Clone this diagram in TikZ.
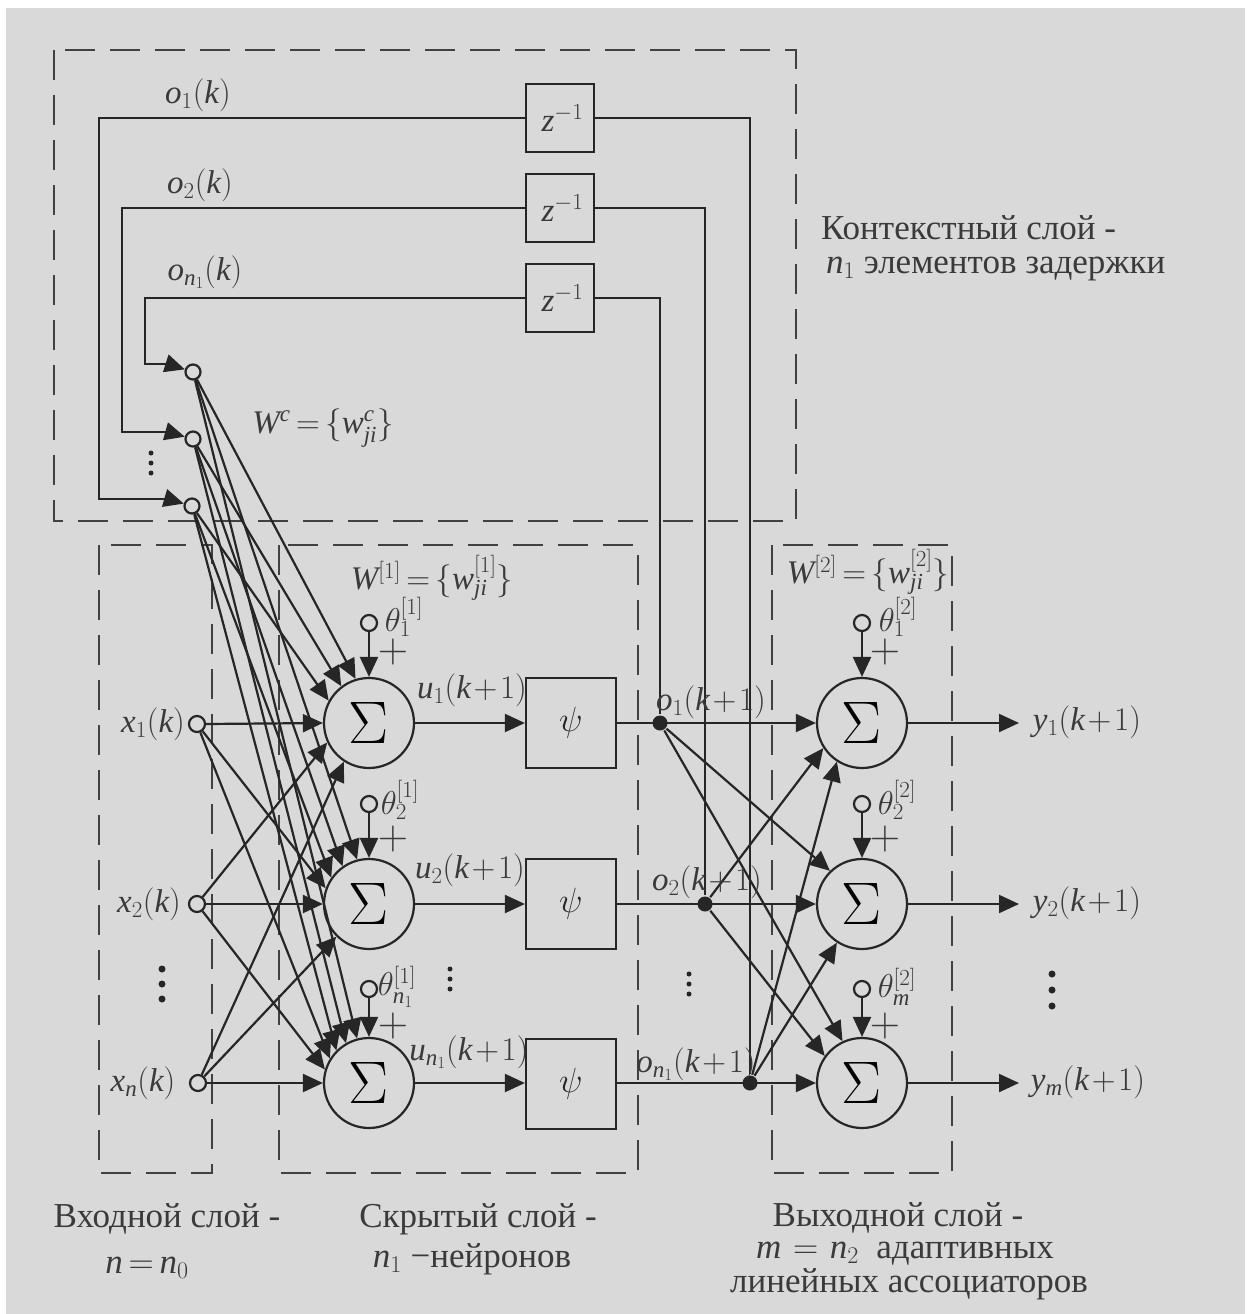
\documentclass[tikz,border=0pt]{standalone}
\usepackage{fix-cm}
\usepackage{fontspec}
\setmainfont{Liberation Serif}
\usetikzlibrary{arrows.meta}
\DeclareSymbolFont{ltnit}{TU}{\rmdefault}{m}{it}
\makeatletter
\@for\ltr:=x,k,u,o,y,n,m,z,w,j,i,c,W\do{%
  \expandafter\DeclareMathSymbol\expandafter{\ltr}{\mathalpha}{ltnit}{\expandafter`\ltr}}
\makeatother
\DeclareMathSizes{33}{33}{23}{17}
\DeclareMathSizes{35}{35}{24}{18}
\DeclareMathSizes{42}{42}{28}{20}
\DeclareMathSizes{60}{60}{40}{30}
\AtBeginDocument{\medmuskip=1.5mu \thickmuskip=3mu}
\definecolor{bgc}{HTML}{D9D9D9}
\definecolor{ink}{HTML}{262626}
\definecolor{txt}{HTML}{3A3A3A}
\tikzset{
  arr/.style={-{Triangle[length=20pt,width=18pt]}},
  dbox/.style={line width=2pt,dash pattern=on 30pt off 15pt,draw=ink!85!bgc},
  sumnode/.style={circle,draw=ink,line width=2.2pt,minimum size=90pt,inner sep=0pt,text=black,font=\fontsize{60}{60}\selectfont},
  hollow/.style={circle,draw=ink,line width=2.2pt,fill=bgc,minimum size=16pt,inner sep=0pt},
  solid dot/.style={circle,fill=ink,draw=none,minimum size=15pt,inner sep=0pt},
  delaybox/.style={rectangle,draw=ink,line width=2.2pt,minimum width=68pt,minimum height=68pt,inner sep=0pt,text=txt,font=\fontsize{33}{36}\selectfont},
  psibox/.style={rectangle,draw=ink,line width=2.2pt,minimum width=90pt,minimum height=90pt,inner sep=0pt,text=ink,font=\fontsize{35}{36}\selectfont},
  lab/.style={inner sep=0pt,text=txt,font=\fontsize{33}{36}\selectfont},
  pluslab/.style={inner sep=0pt,text=txt,font=\fontsize{42}{42}\selectfont},
  captxt/.style={inner sep=0pt,text=txt,font=\fontsize{35}{38}\selectfont,anchor=base},
  pdot/.style={circle,fill=ink,draw=none,minimum size=5pt,inner sep=0pt},
  bigdot/.style={circle,fill=ink,draw=none,minimum size=7pt,inner sep=0pt},
}
\begin{document}
\begin{tikzpicture}[x=1pt,y=-1pt,color=ink,line width=2.2pt]
\useasboundingbox (0,0) rectangle (1249,1314);
\fill[white] (0,0) rectangle (1249,1314);
\fill[bgc] (6,8) rectangle (1245,1314);
% dashed groups
\draw[dbox] (54,50) rectangle (796,521);
\draw[dbox] (99,545) rectangle (212,1173);
\draw[dbox] (279,545) rectangle (638,1173);
\draw[dbox] (772,545) rectangle (952,1173);
% delay
\node[delaybox] (z1) at (560,118) {\hspace*{5pt}$z^{-1}$};
\node[delaybox] (z2) at (560,208) {\hspace*{5pt}$z^{-1}$};
\node[delaybox] (z3) at (560,298) {\hspace*{5pt}$z^{-1}$};
% context units
\node[hollow,minimum size=15pt] (c1) at (193,372) {};
\node[hollow,minimum size=15pt] (c2) at (193,439) {};
\node[hollow,minimum size=15pt] (c3) at (192,506) {};
\coordinate (e1) at (168,364);
\coordinate (e2) at (168,432);
\coordinate (e3) at (168,499);
% inputs
\node[hollow] (i1) at (197,724) {};
\node[hollow] (i2) at (197,904) {};
\node[hollow] (i3) at (198,1083) {};
% hidden
\node[sumnode] (s1) at (369,723) {$\Sigma$};
\node[sumnode] (s2) at (369,904) {$\Sigma$};
\node[sumnode] (s3) at (369,1083) {$\Sigma$};
\node[psibox] (p1) at (571,723) {$\psi$};
\node[psibox] (p2) at (571,904) {$\psi$};
\node[psibox] (p3) at (571,1084) {$\psi$};
% output sums
\node[sumnode] (r1) at (862,723) {$\Sigma$};
\node[sumnode] (r2) at (862,904) {$\Sigma$};
\node[sumnode] (r3) at (862,1083) {$\Sigma$};
% branch dots
\node[solid dot] (d1) at (660,723) {};
\node[solid dot] (d2) at (705,904) {};
\node[solid dot] (d3) at (750,1083) {};
% thetas
\node[hollow] (t1) at (369,623) {};
\node[hollow] (t2) at (369,804) {};
\node[hollow] (t3) at (369,989) {};
\node[hollow] (q1) at (862,623) {};
\node[hollow] (q2) at (862,804) {};
\node[hollow] (q3) at (862,989) {};
\foreach \a/\b in {t1/s1,t2/s2,t3/s3,q1/r1,q2/r2,q3/r3} \draw[arr] (\a) -- (\b);
% feedback
\draw (z1) -| (d3);
\draw (z2) -| (d2);
\draw (z3) -| (d1);
\draw (z1) -- (99,118) |- (e3);
\draw (z2) -- (122,208) |- (e2);
\draw (z3) -- (145,298) |- (e1);
\draw[arr] (e1) -- (c1);
\draw[arr] (e2) -- (c2);
\draw[arr] (e3) -- (c3);
% context fan
\foreach \c/\a in {c1/107,c2/127,c3/151} \draw[arr] (\c) -- (s1.\a);
\foreach \c/\a in {c1/105,c2/125,c3/145} \draw[arr] (\c) -- (s2.\a);
\foreach \c/\a in {c1/105,c2/120,c3/135} \draw[arr] (\c) -- (s3.\a);
% input fan
\draw[arr] (i1.east) -- (s1.west);
\draw[arr] (i2.east) -- (s2.west);
\draw[arr] (i3.east) -- (s3.west);
\draw[arr] (i1) -- (s2.160);
\draw[arr] (i1) -- (s3.148);
\draw[arr] (i2) -- (s1.205);
\draw[arr] (i2) -- (s3.163);
\draw[arr] (i3) -- (s1.237);
\draw[arr] (i3) -- (s2.225);
% hidden to psi
\draw[arr] (s1) -- (p1);
\draw[arr] (s2) -- (p2);
\draw[arr] (s3) -- (p3.west |- s3);
% psi to output
\draw[arr] (p1) -- (r1);
\draw[arr] (p2) -- (r2);
\draw[arr] (p3.east |- r3) -- (r3);
% output fan
\draw[arr] (d1) -- (r2.134);
\draw[arr] (d1) -- (r3.115);
\draw[arr] (d2) -- (r1.213);
\draw[arr] (d2) -- (r3.144);
\draw[arr] (d3) -- (r1.237);
\draw[arr] (d3) -- (r2.237);
% outputs
\node[lab] (y1) at (1087,722) {$y_1(k+1)$};
\node[lab] (y2) at (1087,903) {$y_2(k+1)$};
\node[lab] (y3) at (1088,1082) {$y_m(k+1)$};
\coordinate (a1) at (1019,723);
\coordinate (a2) at (1019,904);
\coordinate (a3) at (1019,1083);
\draw[arr] (r1) -- (a1);
\draw[arr] (r2) -- (a2);
\draw[arr] (r3) -- (a3);
% labels
\node[lab] (lo1) at (198,95) {$o_1(k)$};
\node[lab] (lo2) at (200,185) {$o_2(k)$};
\node[lab] (lo3) at (205,272) {$o_{n_1}(k)$};
\node[lab] (wc) at (323,428) {$W^{c}=\{w^{c}_{ji}\}$};
\node[lab] (w1) at (432,578) {$W^{[1]}=\{w^{[1]}_{ji}\}$};
\node[lab] (w2) at (868,572) {$W^{[2]}=\{w^{[2]}_{ji}\}$};
\node[lab] (lx1) at (153,724) {$x_1(k)$};
\node[lab] (lx2) at (149,904) {$x_2(k)$};
\node[lab] (lx3) at (143,1083) {$x_n(k)$};
\node[lab] (lt1) at (404,617) {$\theta_1^{[1]}$};
\node[lab] (lt2) at (400,800) {$\theta_2^{[1]}$};
\node[lab] (lt3) at (397,987) {$\theta_{n_1}^{[1]}$};
\node[lab] (lq1) at (898,617) {$\theta_1^{[2]}$};
\node[lab] (lq2) at (897,800) {$\theta_2^{[2]}$};
\node[lab] (lq3) at (897,987) {$\theta_{m}^{[2]}$};
\foreach \n/\x/\y in {pa/393/652,pb/393/839,pc/393/1026,pd/885/652,pe/885/839,pf/885/1026}
  \node[pluslab] (\n) at (\x,\y) {$+$};
\node[lab] (lu1) at (472,690) {$u_1(k+1)$};
\node[lab] (lu2) at (470,870) {$u_2(k+1)$};
\node[lab] (lu3) at (469,1052) {$u_{n_1}(k+1)$};
\node[lab] (lo4) at (711,702) {$o_1(k+1)$};
\node[lab] (lo5) at (707,882) {$o_2(k+1)$};
\node[lab] (lo6) at (696,1064) {$o_{n_1}(k+1)$};
% ellipses
\foreach \n/\x/\y in {ca/151/453,cb/151/463,cc/151/473,ha/450/969,hb/450/979,hc/450/989,oa/689/974,ob/689/984,oc/689/994}
  \node[pdot] (\n) at (\x,\y) {};
\foreach \n/\x/\y in {ia/162/969,ib/162/984,ic/162/999,ya/1052/974,yb/1052/990,yc/1052/1006}
  \node[bigdot] (\n) at (\x,\y) {};
% captions
\node[captxt,anchor=base west] (k1) at (820,239) {Контекстный слой -};
\node[captxt,anchor=base west] (k2) at (825,273) {$n_1$ элементов задержки};
\node[captxt] (b1) at (167,1227) {Входной слой -};
\node[captxt] (b2) at (147,1273) {$n=n_0$};
\node[captxt] (b3) at (478,1227) {Скрытый слой -};
\node[captxt] (b4) at (472,1267) {$n_1$ −нейронов};
\node[captxt] (b5) at (898,1226) {Выходной слой -};
\node[captxt] (b6) at (905,1258) {$m\,=\,n_2$ \ адаптивных};
\node[captxt] (b7) at (909,1292) {линейных ассоциаторов};
\end{tikzpicture}
\end{document}
